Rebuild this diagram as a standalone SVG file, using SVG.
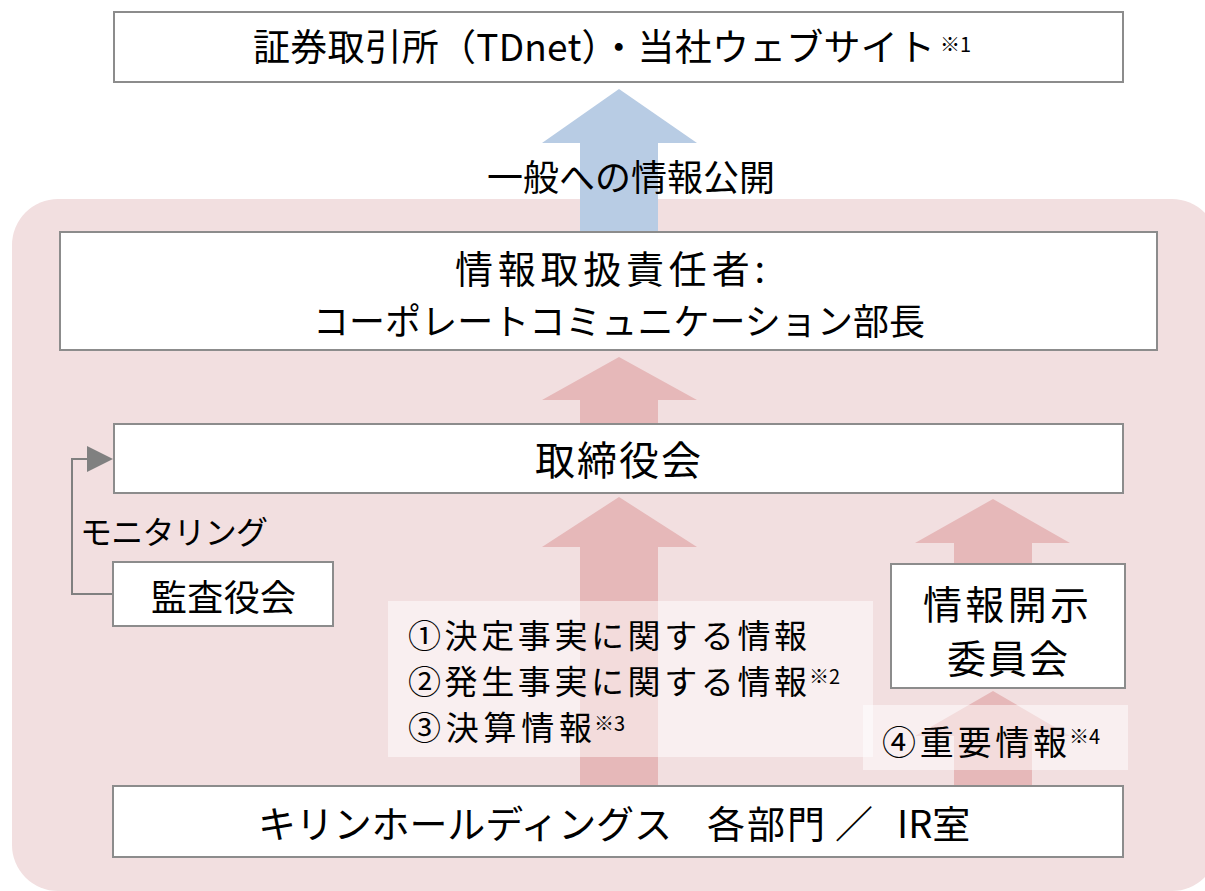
<svg xmlns="http://www.w3.org/2000/svg" width="1205" height="891" viewBox="0 0 1205 891">
<style>
.box{fill:#fff;stroke:#8c8c8c;stroke-width:2}
.t{font-family:"Noto Sans CJK JP","Noto Sans",sans-serif;fill:#000}
.sup{font-family:"Noto Sans CJK JP","Noto Sans",sans-serif;fill:#000;font-size:20px}
.pk{fill:#E6B8B9}
.lbl{fill:#fff;fill-opacity:0.5}
</style>
<rect width="1205" height="891" fill="#fff"/>
<rect x="12" y="199" width="1206" height="692" rx="46" fill="#F2DFE0"/>

<g id="connectors">
  <polygon points="619,89 697,143 658,143 658,232 580,232 580,143 542,143" fill="#B8CCE4"/>
  <polygon class="pk" points="619,357 697,400 658,400 658,424 580,424 580,400 542,400"/>
  <polygon class="pk" points="619,497 697,547 658,547 658,787 580,787 580,547 542,547"/>
  <polygon class="pk" points="993,499 1070,543 1032,543 1032,565 954,565 954,543 915,543"/>
  <polygon class="pk" points="993,691 1070,736 1032,736 1032,787 954,787 954,736 915,736"/>
  <polyline points="113,594 72,594 72,459 90,459" fill="none" stroke="#808080" stroke-width="2"/>
  <polygon points="87,446 113,459 87,472" fill="#808080"/>
</g>

<g id="n-exchange">
  <rect class="box" x="114" y="12" width="1009" height="70"/>
  <text class="t" x="253" y="61" font-size="37" textLength="682" lengthAdjust="spacing">証券取引所（TDnet）・当社ウェブサイト</text>
  <text class="sup" x="940" y="52">※1</text>
</g>
<text class="t" x="487" y="191" font-size="36" textLength="288" lengthAdjust="spacing">一般への情報公開</text>

<g id="n-officer">
  <rect class="box" x="60" y="232" width="1097" height="118"/>
  <text class="t" x="455" y="283" font-size="38" textLength="310" lengthAdjust="spacing">情報取扱責任者:</text>
  <text class="t" x="313" y="335" font-size="36" textLength="612" lengthAdjust="spacing">コーポレートコミュニケーション部長</text>
</g>

<g id="n-board">
  <rect class="box" x="114" y="424" width="1009" height="69"/>
  <text class="t" x="535" y="475" font-size="40" textLength="166" lengthAdjust="spacing">取締役会</text>
</g>

<text class="t" x="80" y="544" font-size="32" textLength="188" lengthAdjust="spacing">モニタリング</text>
<g id="n-audit">
  <rect class="box" x="113" y="562" width="220" height="64"/>
  <text class="t" x="151" y="611" font-size="36" textLength="145" lengthAdjust="spacing">監査役会</text>
</g>

<g id="n-committee">
  <rect class="box" x="891" y="564" width="234" height="124"/>
  <text class="t" x="923" y="619" font-size="39" textLength="166" lengthAdjust="spacing">情報開示</text>
  <text class="t" x="947" y="673" font-size="39" textLength="121" lengthAdjust="spacing">委員会</text>
</g>

<g id="l-info">
  <rect class="lbl" x="388" y="601" width="485" height="156"/>
  <text class="t" x="408" y="648" font-size="33" textLength="399" lengthAdjust="spacing">①決定事実に関する情報</text>
  <text class="t" x="408" y="694" font-size="33" textLength="399" lengthAdjust="spacing">②発生事実に関する情報</text>
  <text class="sup" x="809" y="684">※2</text>
  <text class="t" x="408" y="740" font-size="33" textLength="184" lengthAdjust="spacing">③決算情報</text>
  <text class="sup" x="594" y="731">※3</text>
</g>
<g id="l-important">
  <rect class="lbl" x="863" y="705" width="265" height="65"/>
  <text class="t" x="882" y="755" font-size="34" textLength="185" lengthAdjust="spacing">④重要情報</text>
  <text class="sup" x="1069" y="744">※4</text>
</g>

<g id="n-kirin">
  <rect class="box" x="113" y="786" width="1010" height="71"/>
  <text class="t" x="258" y="838" font-size="38" textLength="414" lengthAdjust="spacing">キリンホールディングス</text>
  <text class="t" x="707" y="838" font-size="38" textLength="118" lengthAdjust="spacing">各部門</text>
  <text class="t" x="835" y="838" font-size="38">／</text>
  <text class="t" x="897" y="838" font-size="38">IR室</text>
</g>
</svg>
